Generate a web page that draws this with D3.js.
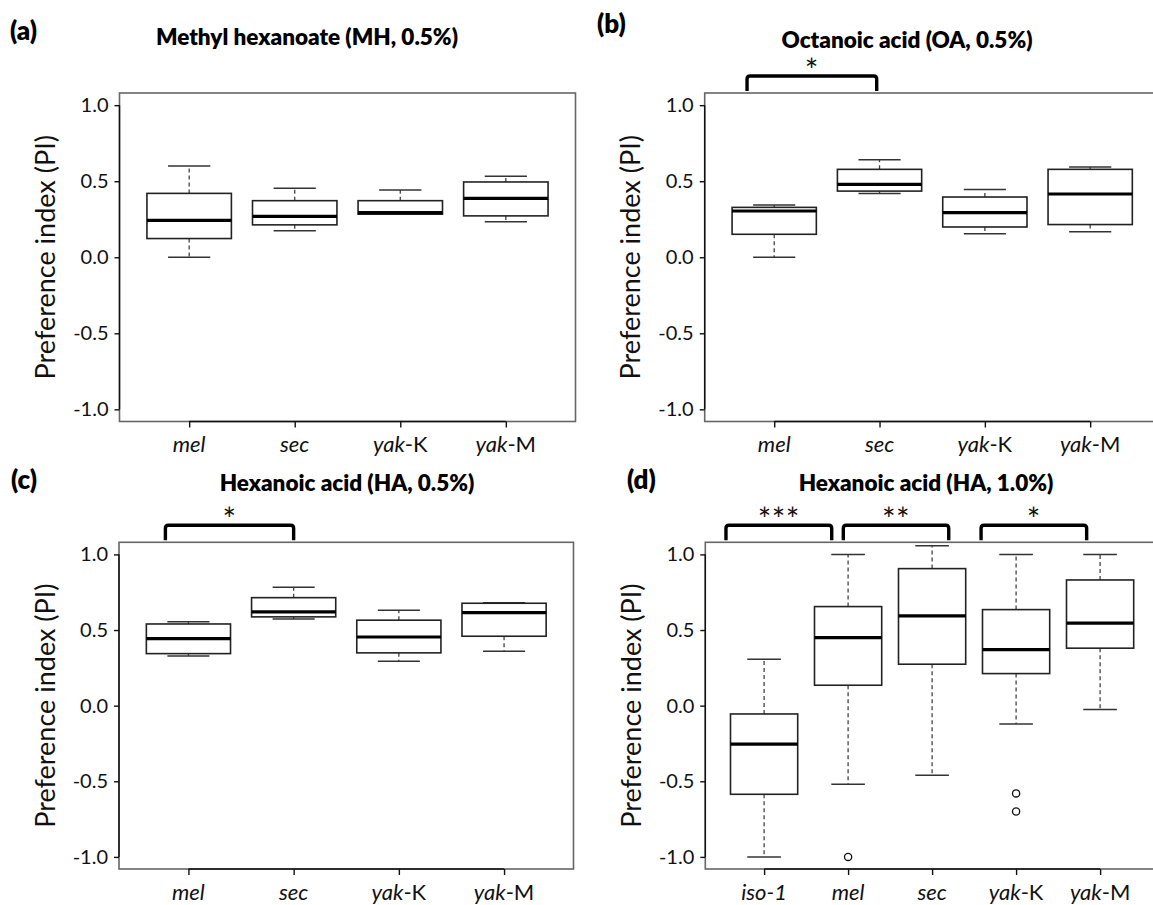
<!DOCTYPE html>
<html>
<head>
<meta charset="utf-8">
<script src="https://cdn.jsdelivr.net/npm/d3@7"></script>
<style>
  html, body { margin: 0; padding: 0; background: #fff; }
  svg { display: block; font-family: Lato, "Open Sans", sans-serif; }
</style>
</head>
<body>
<svg id="chart" width="1153" height="905"></svg>
<script>
// ---------------- data ----------------
const cats4 = ["mel", "sec", "yak-K", "yak-M"];
const cats5 = ["iso-1", "mel", "sec", "yak-K", "yak-M"];
const yTicks = [-1.0, -0.5, 0.0, 0.5, 1.0];

// box statistics per category: [lower whisker, Q1, median, Q3, upper whisker]
const statsA = [
  [0.00, 0.123, 0.243, 0.420, 0.600],
  [0.175, 0.213, 0.269, 0.372, 0.453],
  [0.282, 0.283, 0.293, 0.372, 0.442],
  [0.234, 0.272, 0.387, 0.495, 0.532]
];
const statsB = [
  [0.00, 0.151, 0.304, 0.328, 0.343],
  [0.420, 0.435, 0.479, 0.578, 0.641],
  [0.155, 0.199, 0.293, 0.396, 0.446],
  [0.167, 0.215, 0.416, 0.578, 0.594]
];
const statsC = [
  [0.329, 0.344, 0.443, 0.540, 0.554],
  [0.573, 0.587, 0.620, 0.714, 0.783],
  [0.294, 0.349, 0.454, 0.565, 0.631],
  [0.360, 0.459, 0.615, 0.677, 0.681]
];
const statsD = [
  [-1.00, -0.586, -0.255, -0.055, 0.307],
  [-0.52, 0.135, 0.450, 0.655, 1.000],
  [-0.46, 0.274, 0.593, 0.906, 1.058],
  [-0.121, 0.212, 0.370, 0.635, 1.000],
  [-0.026, 0.380, 0.545, 0.831, 1.000]
];
// outliers per category
const outliersA = [[], [], [], []];
const outliersB = [[], [], [], []];
const outliersC = [[], [], [], []];
const outliersD = [[], [-1.0], [], [-0.58, -0.70], []];

// significance brackets: [x start, x end (category units), label]
const sigA = [];
const sigB = [[0.742, 1.973, "*"]];
const sigC = [[0.781, 2.000, "*"]];
const sigD = [[0.546, 1.805, "***"], [1.943, 3.198, "**"], [3.583, 4.840, "*"]];

const titles = ["Methyl hexanoate (MH, 0.5%)", "Octanoic acid (OA, 0.5%)",
                "Hexanoic acid (HA, 0.5%)", "Hexanoic acid (HA, 1.0%)"];
const panelLetters = ["(a)", "(b)", "(c)", "(d)"];
const yLabel = "Preference index (PI)";

// ---------------- layout ----------------
const panels = [
  {cats: cats4, stats: statsA, out: outliersA, sig: sigA, title: titles[0], letter: panelLetters[0],
   left: 119.5, top: 93, width: 456, height: 328.5, titleX: 307, titleY: 45, letterX: 10, letterY: 40},
  {cats: cats4, stats: statsB, out: outliersB, sig: sigB, title: titles[1], letter: panelLetters[1],
   left: 704.7, top: 93, width: 455, height: 328.5, titleX: 907, titleY: 48, letterX: 597, letterY: 33},
  {cats: cats4, stats: statsC, out: outliersC, sig: sigC, title: titles[2], letter: panelLetters[2],
   left: 119, top: 542.3, width: 454.5, height: 326.7, titleX: 347, titleY: 491, letterX: 11, letterY: 489},
  {cats: cats5, stats: statsD, out: outliersD, sig: sigD, title: titles[3], letter: panelLetters[3],
   left: 705.3, top: 542.3, width: 453.6, height: 326.7, titleX: 926, titleY: 491, letterX: 627, letterY: 489}
];

const svg = d3.select("#chart");

panels.forEach(p => {
  const n = p.cats.length;
  const pad = 0.04 * n;
  const x = d3.scaleLinear().domain([0.5 - pad, n + 0.5 + pad]).range([p.left, p.left + p.width]);
  const y = d3.scaleLinear().domain([-1.08, 1.08]).range([p.top + p.height, p.top]);
  const g = svg.append("g");
  const unit = x(2) - x(1);
  const boxW = 0.8 * unit;
  const capW = 0.4 * unit;

  // frame
  g.append("rect")
    .attr("x", p.left).attr("y", p.top)
    .attr("width", p.width).attr("height", p.height)
    .attr("fill", "none").attr("stroke", "#666").attr("stroke-width", 1.6);

  // y axis
  const yAxis = d3.axisLeft(y).tickValues(yTicks).tickFormat(d3.format(".1f")).tickSize(5).tickPadding(6);
  const ya = g.append("g").attr("transform", `translate(${p.left},0)`).call(yAxis);
  ya.select(".domain").attr("d", `M0,${y(1)}V${y(-1)}`).attr("stroke", "#111").attr("stroke-width", 1.4);
  ya.selectAll(".tick line").attr("stroke", "#111").attr("stroke-width", 1.4);
  ya.selectAll(".tick text").attr("font-size", 20).attr("fill", "#111")
    .attr("font-family", "Lato, 'Open Sans', sans-serif")
    .text(d => d3.format(".1f")(d).replace("−", "-"));

  // x axis
  const xAxis = d3.axisBottom(x).tickValues(d3.range(1, n + 1)).tickFormat("").tickSize(6);
  const xa = g.append("g").attr("transform", `translate(0,${p.top + p.height})`).call(xAxis);
  xa.select(".domain").attr("d", `M${x(1)},0H${x(n)}`).attr("stroke", "#111").attr("stroke-width", 1.4);
  xa.selectAll(".tick line").attr("stroke", "#111").attr("stroke-width", 1.4);

  // category labels (italic species part)
  p.cats.forEach((c, i) => {
    const t = g.append("text")
      .attr("x", x(i + 1)).attr("y", p.top + p.height + 30.5)
      .attr("text-anchor", "middle").attr("font-size", 22).attr("fill", "#111");
    if (c.startsWith("yak-")) {
      t.append("tspan").attr("font-style", "italic").text("yak");
      t.append("tspan").text(c.slice(3));
    } else {
      t.append("tspan").attr("font-style", "italic").text(c);
    }
  });

  // y label
  const cy = p.top + p.height / 2;
  g.append("text")
    .attr("transform", `translate(${p.left - 75},${cy}) rotate(-90)`)
    .attr("text-anchor", "middle").attr("dominant-baseline", "central")
    .attr("font-size", 27).attr("fill", "#111").text(yLabel);

  // boxes
  p.stats.forEach((s, i) => {
    const cx = x(i + 1);
    const [lo, q1, med, q3, hi] = s;
    // whiskers
    g.append("line").attr("x1", cx).attr("x2", cx).attr("y1", y(q3)).attr("y2", y(hi))
      .attr("stroke", "#444").attr("stroke-width", 1.3).attr("stroke-dasharray", "4,3");
    g.append("line").attr("x1", cx).attr("x2", cx).attr("y1", y(q1)).attr("y2", y(lo))
      .attr("stroke", "#444").attr("stroke-width", 1.3).attr("stroke-dasharray", "4,3");
    // caps
    [lo, hi].forEach(v => {
      g.append("line").attr("x1", cx - capW / 2).attr("x2", cx + capW / 2)
        .attr("y1", y(v)).attr("y2", y(v)).attr("stroke", "#333").attr("stroke-width", 1.5);
    });
    // box
    g.append("rect").attr("x", cx - boxW / 2).attr("width", boxW)
      .attr("y", y(q3)).attr("height", y(q1) - y(q3))
      .attr("fill", "#fff").attr("stroke", "#222").attr("stroke-width", 1.6);
    // median
    g.append("line").attr("x1", cx - boxW / 2).attr("x2", cx + boxW / 2)
      .attr("y1", y(med)).attr("y2", y(med)).attr("stroke", "#000").attr("stroke-width", 3.2);
    // outliers
    p.out[i].forEach(v => {
      g.append("circle").attr("cx", cx).attr("cy", y(v)).attr("r", 3.6)
        .attr("fill", "#fff").attr("stroke", "#111").attr("stroke-width", 1.3);
    });
  });

  // significance brackets
  p.sig.forEach(([a, b, lab]) => {
    const x1 = x(a), x2 = x(b);
    const yt = p.top - 17, yb = p.top - 2, r = 3;
    g.append("path")
      .attr("d", `M${x1},${yb}L${x1},${yt + r}Q${x1},${yt} ${x1 + r},${yt}L${x2 - r},${yt}Q${x2},${yt} ${x2},${yt + r}L${x2},${yb}`)
      .attr("fill", "none").attr("stroke", "#000").attr("stroke-width", 3.4);
    g.append("text").attr("x", (x1 + x2) / 2).attr("y", p.top - 11)
      .attr("text-anchor", "middle").attr("font-size", 32).attr("letter-spacing", 0.5)
      .attr("fill", "#111").text(lab);
  });

  // title & letter
  svg.append("text").attr("x", p.titleX).attr("y", p.titleY).attr("text-anchor", "middle")
    .attr("font-size", 22.5).attr("font-weight", 800).attr("fill", "#000").text(p.title);
  svg.append("text").attr("x", p.letterX).attr("y", p.letterY)
    .attr("font-size", 26).attr("font-weight", 800).attr("fill", "#000").text(p.letter);
});
</script>
</body>
</html>
